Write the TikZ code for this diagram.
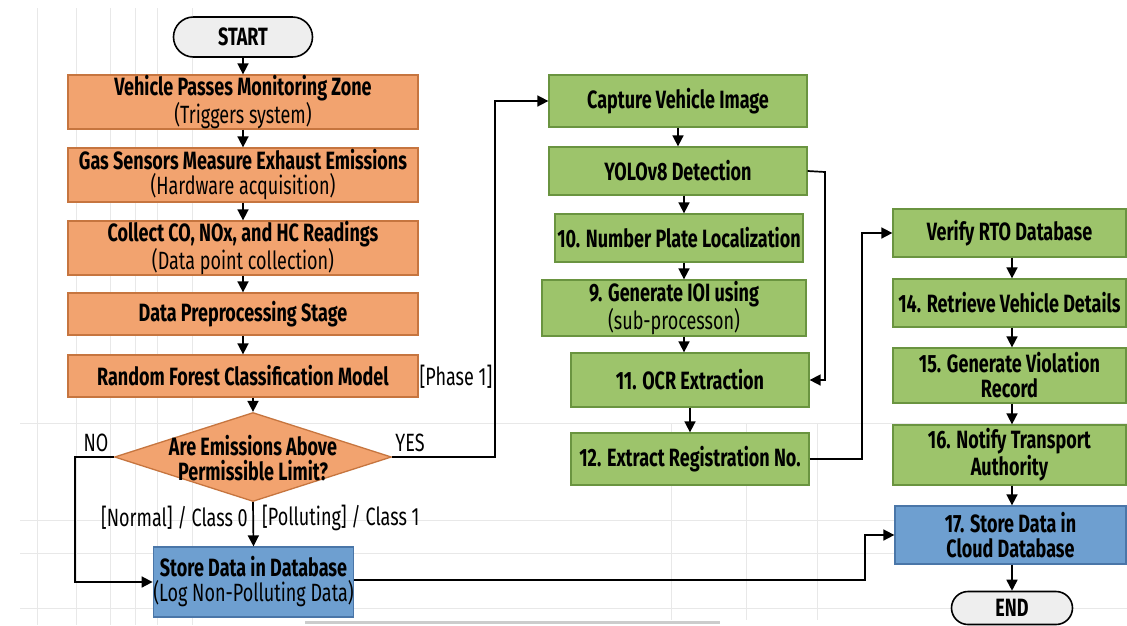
\documentclass[tikz,border=0pt]{standalone}
\usepackage{fontspec}
\setmainfont{Fira Sans}[FakeStretch=0.72]
\usetikzlibrary{arrows.meta,shapes.geometric,shapes.misc}
\definecolor{orangef}{HTML}{F2A36F}
\definecolor{oranged}{HTML}{C6753F}
\definecolor{greenf}{HTML}{9DC46B}
\definecolor{greend}{HTML}{6A9440}
\definecolor{bluef}{HTML}{6E9FD0}
\definecolor{blued}{HTML}{4A76A8}
\definecolor{termf}{HTML}{EEEEEE}
\definecolor{gridc}{HTML}{E8E8E8}
\newcommand{\fs}{\fontsize{25}{25}\selectfont}
\tikzset{
  box/.style={draw, line width=1.3pt, align=center, inner sep=0pt, font=\fs},
  obox/.style={box, fill=orangef, draw=oranged},
  gbox/.style={box, fill=greenf, draw=greend},
  bbox/.style={box, fill=bluef, draw=blued},
  term/.style={rounded rectangle, draw=black, line width=1.6pt, fill=termf, inner sep=0pt, font=\fs\bfseries},
  dia/.style={diamond, draw=oranged, fill=orangef, line width=1.3pt, inner sep=0pt},
  arr/.style={-{Triangle[length=11pt,width=11pt]}, line width=1.7pt},
  lbl/.style={font=\fs, inner sep=0pt},
  gl/.style={draw=gridc, line width=1pt}
}
\begin{document}
\begin{tikzpicture}[x=1pt,y=-1pt]
\useasboundingbox[fill=white] (0,0) rectangle (1127,625);
% faint background grid
\foreach \gx in {37,76,110,135,157,192} \draw[gl] (\gx,8) -- (\gx,625);
\foreach \gy in {423,520,553,608} \draw[gl] (20,\gy) -- (1127,\gy);
\foreach \gx in {671,746,817} \draw[gl] (\gx,423) -- (\gx,620);
\draw[draw=gray!40, line width=3pt] (305,622) -- (720,622);

% left column
\node[term, minimum width=139, minimum height=40] (start) at (243,37) {START};
\node[obox, minimum width=350, minimum height=54] (b1) at (243,102) {\textbf{Vehicle Passes Monitoring Zone}\\(Triggers system)};
\node[obox, minimum width=350, minimum height=54] (b2) at (243,175) {\textbf{Gas Sensors Measure Exhaust Emissions}\\(Hardware acquisition)};
\node[obox, minimum width=350, minimum height=54] (b3) at (243,248) {\textbf{Collect CO, NOx, and HC Readings}\\(Data point collection)};
\node[obox, minimum width=350, minimum height=42] (b4) at (243,314) {\textbf{Data Preprocessing Stage}};
\node[obox, minimum width=350, minimum height=42] (b5) at (243,376) {\textbf{Random Forest Classification Model}};
\node[lbl] (phase) at (456,377) {[Phase 1]};
\node[dia, minimum width=277, minimum height=89] (d) at (253,457) {};
\node[lbl, align=center, font=\fs\bfseries] (dt) at (253,458) {Are Emissions Above\\Permissible Limit?};
\node[lbl] (no) at (96,443) {NO};
\node[lbl] (yes) at (410,443) {YES};
\node[lbl, anchor=east] (normal) at (248,518) {[Normal] / Class 0};
\node[lbl, anchor=west] (poll) at (262,518) {[Polluting] / Class 1};
\node[bbox, minimum width=199, minimum height=70] (store) at (253.5,582) {\textbf{Store Data in Database}\\(Log Non-Polluting Data)};

% middle column
\node[gbox, minimum width=258, minimum height=52] (cap) at (678,101) {\textbf{Capture Vehicle Image}};
\node[gbox, minimum width=258, minimum height=48] (yolo) at (678,171) {\textbf{YOLOv8 Detection}};
\node[gbox, minimum width=248, minimum height=48] (np) at (679,238) {\textbf{10. Number Plate Localization}};
\node[gbox, minimum width=264, minimum height=56] (ioi) at (674,308) {\textbf{9. Generate IOI using}\\(sub-processon)};
\node[gbox, minimum width=238, minimum height=54] (ocr) at (690,380) {\textbf{11. OCR Extraction}};
\node[gbox, minimum width=238, minimum height=52] (ext) at (690,459) {\textbf{12. Extract Registration No.}};

% right column
\node[gbox, minimum width=233, minimum height=48] (rto) at (1009.5,233) {\textbf{Verify RTO Database}};
\node[gbox, minimum width=233, minimum height=48] (ret) at (1009.5,303) {\textbf{14. Retrieve Vehicle Details}};
\node[gbox, minimum width=233, minimum height=55] (viol) at (1009.5,375.5) {\textbf{15. Generate Violation}\\\textbf{Record}};
\node[gbox, minimum width=233, minimum height=60] (noti) at (1009.5,455) {\textbf{16. Notify Transport}\\\textbf{Authority}};
\node[bbox, minimum width=231, minimum height=58] (cloud) at (1010.5,535) {\textbf{17. Store Data in}\\\textbf{Cloud Database}};
\node[term, minimum width=121, minimum height=33] (end) at (1012,608) {END};

% coordinates for routing
\coordinate (nox) at (75,457);
\coordinate (yesx) at (495,457);
\coordinate (mx) at (684,0);
\coordinate (yx) at (825,172);
\coordinate (ex) at (862,459);
\coordinate (sx) at (865,580);
\coordinate (rx) at (1012,0);

% connectors
\draw[arr] (start) -- (b1);
\draw[arr] (b1) -- (b2);
\draw[arr] (b2) -- (b3);
\draw[arr] (b3) -- (b4);
\draw[arr] (b4) -- (b5);
\draw[arr] (b5.south -| d.north) -- (d.north);
\draw[arr] (d.south) -- (store.north);
\draw[arr] (d.west) -- (nox) |- (store.west);
\draw[arr] (d.east) -- (yesx) |- (cap.west);
\draw[arr] (cap) -- (yolo);
\draw[arr] (yolo.south -| mx) -- (np.north -| mx);
\draw[arr] (np.south -| mx) -- (ioi.north -| mx);
\draw[arr] (ioi.south -| mx) -- (ocr.north -| mx);
\draw[arr] (ocr.south) -- (ext.north);
\draw[arr] (yolo.east) -- (yx) |- (ocr.east);
\draw[arr] (ext.east) -- (ex) |- (rto.west);
\draw[arr] (rto.south -| rx) -- (ret.north -| rx);
\draw[arr] (ret.south -| rx) -- (viol.north -| rx);
\draw[arr] (viol.south -| rx) -- (noti.north -| rx);
\draw[arr] (noti.south -| rx) -- (cloud.north -| rx);
\draw[arr] (cloud.south -| rx) -- (end.north);
\draw[arr] (store.east |- sx) -- (sx) |- (cloud.west);
\end{tikzpicture}
\end{document}
